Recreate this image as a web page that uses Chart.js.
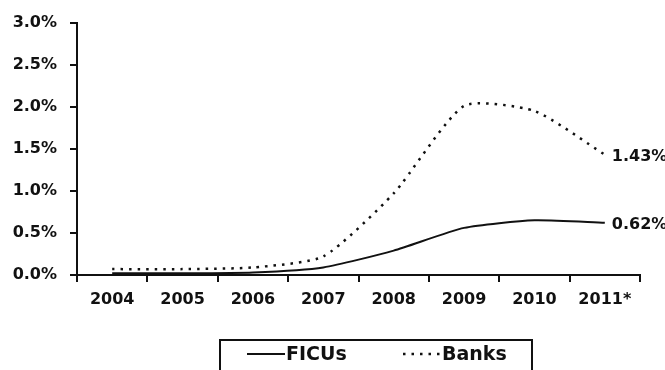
<!DOCTYPE html>
<html>
<head>
<meta charset="utf-8">
<script src="https://cdn.jsdelivr.net/npm/chart.js@4.4.1/dist/chart.umd.min.js"></script>
<style>
  html, body { margin: 0; padding: 0; background: #fff; }
  canvas { display: block; }
</style>
</head>
<body>
<canvas id="delinqChart" width="665" height="370"></canvas>
<script>
// Delinquency rates by year (percent)
const years = ['2004', '2005', '2006', '2007', '2008', '2009', '2010', '2011*'];
const ficus = [0.02, 0.02, 0.03, 0.09, 0.29, 0.56, 0.65, 0.62];
const banks = [0.07, 0.07, 0.09, 0.22, 0.97, 2.01, 1.95, 1.43];
const yTicks = [0, 0.5, 1.0, 1.5, 2.0, 2.5, 3.0];

const FONT = '"DejaVu Sans", sans-serif';
const INK = '#111';

// value label at the end of each line
const endLabels = {
  id: 'endLabels',
  afterDatasetsDraw(chart) {
    const ctx = chart.ctx;
    ctx.save();
    ctx.font = 'bold 16px ' + FONT;
    ctx.fillStyle = INK;
    ctx.textAlign = 'left';
    ctx.textBaseline = 'middle';
    chart.data.datasets.forEach((ds, i) => {
      const meta = chart.getDatasetMeta(i);
      const last = meta.data[meta.data.length - 1];
      const val = ds.data[ds.data.length - 1];
      ctx.fillText(val.toFixed(2) + '%', last.x + 7, last.y + 2);
    });
    ctx.restore();
  }
};

// boxed legend under the axis
const boxLegend = {
  id: 'boxLegend',
  afterDraw(chart) {
    const ctx = chart.ctx;
    const items = [
      { ds: chart.data.datasets[0], x: 247 },
      { ds: chart.data.datasets[1], x: 403 }
    ];
    const y = 354;
    ctx.save();
    ctx.strokeStyle = INK;
    ctx.lineWidth = 2;
    ctx.strokeRect(220, 340, 312, 34);

    ctx.font = 'bold 19px ' + FONT;
    ctx.fillStyle = INK;
    ctx.textBaseline = 'middle';
    items.forEach(it => {
      ctx.beginPath();
      ctx.lineWidth = it.ds.borderWidth;
      ctx.setLineDash(it.ds.borderDash || []);
      ctx.moveTo(it.x, y);
      ctx.lineTo(it.x + 38, y);
      ctx.stroke();
      ctx.setLineDash([]);
      ctx.fillText(it.ds.label, it.x + 39, y + 1);
    });
    ctx.restore();
  }
};

new Chart(document.getElementById('delinqChart'), {
  type: 'line',
  data: {
    labels: years,
    datasets: [
      {
        label: 'FICUs',
        data: ficus,
        borderColor: INK,
        borderWidth: 2,
        pointRadius: 0,
        tension: 0.2,
        fill: false
      },
      {
        label: 'Banks',
        data: banks,
        borderColor: INK,
        borderWidth: 2.5,
        borderDash: [2.5, 6],
        pointRadius: 0,
        tension: 0.2,
        fill: false
      }
    ]
  },
  options: {
    responsive: false,
    animation: false,
    layout: { padding: { top: 16, right: 25, bottom: 50, left: 0 } },
    plugins: {
      legend: { display: false },
      tooltip: { enabled: false }
    },
    scales: {
      x: {
        offset: true,
        grid: { offset: true, drawOnChartArea: false, color: INK, lineWidth: 2, tickLength: 7 },
        border: { color: INK, width: 2 },
        ticks: { color: INK, font: { family: FONT, size: 16, weight: 'bold' }, padding: 8, maxRotation: 0 },
        afterFit(scale) { scale.height = 45; }
      },
      y: {
        min: 0,
        max: 3,
        afterBuildTicks(scale) { scale.ticks = yTicks.map(v => ({ value: v })); },
        grid: { drawOnChartArea: false, color: INK, lineWidth: 2, tickLength: 7 },
        border: { color: INK, width: 2 },
        ticks: {
          color: INK,
          font: { family: FONT, size: 16, weight: 'bold' },
          padding: 13,
          callback: v => v.toFixed(1) + '%'
        },
        afterFit(scale) { scale.width = 77; }
      }
    }
  },
  plugins: [endLabels, boxLegend]
});
</script>
</body>
</html>
